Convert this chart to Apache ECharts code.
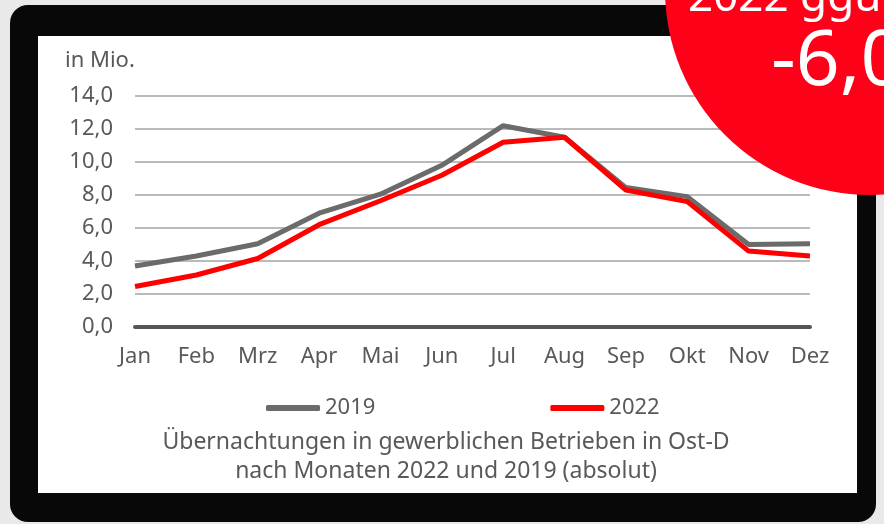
<!DOCTYPE html>
<html>
<head>
<meta charset="utf-8">
<script src="https://cdn.jsdelivr.net/npm/echarts@6/dist/echarts.min.js"></script>
<style>
  html, body { margin: 0; padding: 0; background: #e9e9e9; }
  #chart { width: 884px; height: 524px; }
</style>
</head>
<body>
<div id="chart"></div>
<script>
// Monate und Werte (in Mio.)
const months = ['Jan', 'Feb', 'Mrz', 'Apr', 'Mai', 'Jun', 'Jul', 'Aug', 'Sep', 'Okt', 'Nov', 'Dez'];
const values2019 = [3.7, 4.3, 5.05, 6.9, 8.05, 9.8, 12.2, 11.5, 8.45, 7.9, 5.0, 5.05];
const values2022 = [2.45, 3.15, 4.15, 6.2, 7.65, 9.2, 11.2, 11.5, 8.3, 7.6, 4.6, 4.3];
const yTicks = [0, 2, 4, 6, 8, 10, 12, 14];

const FONT = '"Noto Sans", sans-serif';
const TEXT = '#595959';

const chart = echarts.init(document.getElementById('chart'));

chart.setOption({
    backgroundColor: '#e9e9e9',
    animation: false,
    textStyle: {fontFamily: FONT},
    grid: {left: 135, right: 74, top: 96, bottom: 197},
    xAxis: {
        type: 'category',
        data: months,
        boundaryGap: false,
        axisTick: {show: false},
        axisLine: {lineStyle: {color: '#555', width: 4}},
        axisLabel: {color: TEXT, fontSize: 22, margin: 19, fontFamily: FONT}
    },
    yAxis: {
        type: 'value',
        min: yTicks[0],
        max: yTicks[yTicks.length - 1],
        interval: 2,
        axisLine: {show: false},
        axisTick: {show: false},
        splitLine: {lineStyle: {color: '#a3a3a3', width: 1.5}},
        axisLabel: {
            color: TEXT, fontSize: 22, margin: 22, fontFamily: FONT,
            formatter: v => v.toFixed(1).replace('.', ',')
        }
    },
    legend: {
        left: 266,
        top: 397,
        padding: 0,
        itemWidth: 54,
        itemHeight: 6,
        itemGap: 175,
        icon: 'roundRect',
        textStyle: {color: TEXT, fontSize: 22, fontFamily: FONT},
        data: ['2019', '2022']
    },
    title: {
        text: 'Übernachtungen in gewerblichen Betrieben in Ost-D\nnach Monaten 2022 und 2019 (absolut)',
        left: 446,
        top: 428,
        padding: 0,
        textAlign: 'center',
        textStyle: {color: TEXT, fontSize: 23, fontWeight: 'normal', lineHeight: 29, fontFamily: FONT}
    },
    series: [
        {
            name: '2019',
            type: 'line',
            data: values2019,
            symbol: 'none',
            color: '#6b6b6b',
            lineStyle: {width: 5, color: '#6b6b6b'}
        },
        {
            name: '2022',
            type: 'line',
            data: values2022,
            symbol: 'none',
            color: '#ff0000',
            lineStyle: {width: 5, color: '#ff0000'}
        }
    ],
    graphic: [
        // Monitorrahmen
        {type: 'rect', z: -10, shape: {x: 10, y: 5, width: 866, height: 517, r: 18},
            style: {fill: '#080808'}},
        {type: 'rect', z: -9, shape: {x: 38, y: 36, width: 819, height: 457},
            style: {fill: '#ffffff'}},
        {type: 'text', z: 5, left: 65, top: 50,
            style: {text: 'in Mio.', fill: TEXT, font: '22px ' + FONT}},
        // roter Kreis
        {type: 'circle', z: 100, shape: {cx: 870, cy: -10, r: 205},
            style: {fill: '#ff0019'}},
        {type: 'text', z: 101, left: 688, top: -24,
            style: {text: '2022 ggü. 2019', fill: '#ffffff', font: '44px ' + FONT}},
        {type: 'text', z: 101, left: 771, top: 25,
            style: {text: '-6,0 %', fill: '#ffffff', font: '77px ' + FONT}}
    ]
});
</script>
</body>
</html>
